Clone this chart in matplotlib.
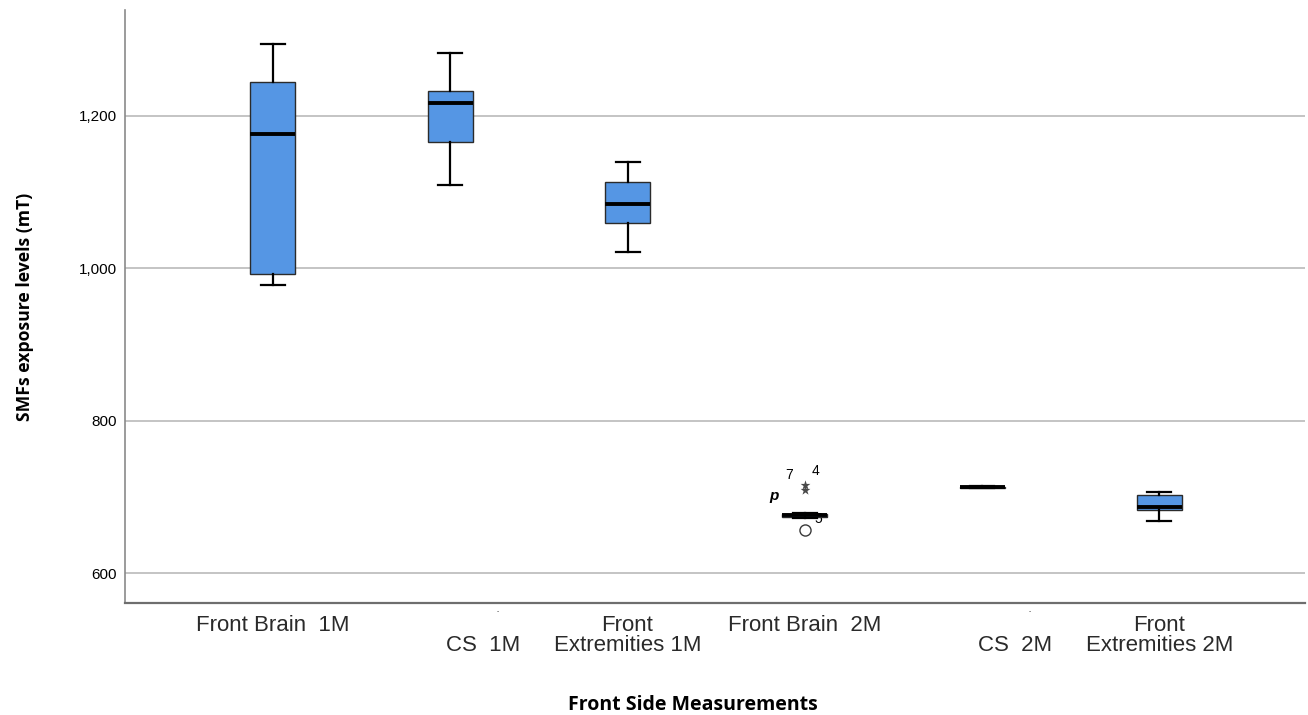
import matplotlib.pyplot as plt
from matplotlib.transforms import ScaledTranslation

# Groupes mesurés (face avant)
groupes = ["Front Brain  1M", "CS  1M", "Front\nExtremities 1M",
           "Front Brain  2M", "CS  2M", "Front\nExtremities 2M"]

# Statistiques des boîtes (mT)
moustache_bas = [978, 1109, 1021, 672, 711, 668]
q1 = [992, 1166, 1060, 673, 712, 683]
mediane = [1176, 1217, 1085, 676, 712.5, 687]
q3 = [1245, 1233, 1113, 678, 713, 702]
moustache_haut = [1295, 1283, 1140, 679, 714, 707]

# Valeurs atypiques du groupe Front Brain 2M
atypiques = [656]           # cercle
extremes = [716, 709]       # étoiles
groupe_atypique = 3

stats = []
for i, nom in enumerate(groupes):
    stats.append({
        "label": nom,
        "whislo": moustache_bas[i],
        "q1": q1[i],
        "med": mediane[i],
        "q3": q3[i],
        "whishi": moustache_haut[i],
        "fliers": atypiques if i == groupe_atypique else [],
    })

plt.rcParams['font.family'] = ['Liberation Sans', 'DejaVu Sans']

fig = plt.figure(figsize=(13.08, 7.15), dpi=100)
ax = fig.add_axes([0.0956, 0.157, 0.9024, 0.829])

positions = list(range(len(groupes)))
ax.bxp(stats, positions=positions, widths=0.254, capwidths=0.135,
       patch_artist=True, zorder=3,
       boxprops=dict(facecolor='#5596e4', edgecolor='#2b2b2b', linewidth=1.0),
       medianprops=dict(color='black', linewidth=2.8),
       whiskerprops=dict(color='black', linewidth=1.6),
       capprops=dict(color='black', linewidth=1.6),
       flierprops=dict(marker='o', markersize=8, markerfacecolor='none',
                       markeredgecolor='#3a3a3a', markeredgewidth=1.0))

# Valeurs extrêmes en étoiles
ax.scatter([groupe_atypique] * len(extremes), extremes, marker='*', s=55,
           color='#4a4a4a', zorder=4, linewidths=0)

# Numéros des cas
ax.annotate("7", (groupe_atypique, extremes[0]), xytext=(-11, 7),
            textcoords='offset points', fontsize=10, ha='center', va='center')
ax.annotate("4", (groupe_atypique, extremes[0]), xytext=(8, 10),
            textcoords='offset points', fontsize=10, ha='center', va='center')
ax.annotate("p", (groupe_atypique, extremes[1]), xytext=(-22, -4),
            textcoords='offset points', fontsize=11, ha='center', va='center',
            fontweight='bold', fontstyle='italic')
ax.annotate("5", (groupe_atypique, atypiques[0]), xytext=(10, 8),
            textcoords='offset points', fontsize=10, ha='center', va='center',
            zorder=2)

# Axes
ax.set_xlim(-0.834, 5.823)
ax.set_ylim(561, 1339)
ax.set_yticks([600, 800, 1000, 1200])
ax.set_yticklabels(["600", "800", "1,000", "1,200"], fontsize=11)
ax.tick_params(axis='y', length=0, pad=6)
ax.set_xticks(positions)
ax.set_xticklabels([])
ax.tick_params(axis='x', length=0)
ax.grid(axis='y', color='#c4c4c4', linewidth=1.4, zorder=0)
ax.set_axisbelow(True)

for cote in ['top', 'right']:
    ax.spines[cote].set_visible(False)
ax.spines['left'].set_color('#8a8a8a')
ax.spines['bottom'].set_color('#6e6e6e')
ax.spines['left'].set_linewidth(1.2)
ax.spines['bottom'].set_linewidth(1.6)

# Étiquettes des groupes sous l'axe (les CS sur la deuxième ligne)
trans = ax.get_xaxis_transform()
for i, nom in enumerate(groupes):
    if nom.startswith("CS"):
        decal = ScaledTranslation(33 / 100, 0, fig.dpi_scale_trans)
        ax.text(i, -0.054, nom, transform=trans + decal, ha='center',
                va='top', fontsize=16, color='#2a2a2a')
        point = ScaledTranslation(47 / 100, 0, fig.dpi_scale_trans)
        ax.text(i, -0.015, "·", transform=trans + point, ha='center',
                va='center', fontsize=9, color='#444444')
    else:
        ax.text(i, -0.02, nom, transform=trans, ha='center', va='top',
                fontsize=16, linespacing=0.98, color='#2a2a2a')

ax.set_ylabel("SMFs exposure levels (mT)", fontsize=12.7, fontweight='bold',
              family=['Open Sans', 'DejaVu Sans'])
ax.yaxis.set_label_coords(-0.077, 0.5)
fig.text(0.530, 0.014, "Front Side Measurements", ha='center', va='center',
         fontsize=14, fontweight='bold', family=['Open Sans', 'DejaVu Sans'])

plt.savefig("out.png", dpi=100)
